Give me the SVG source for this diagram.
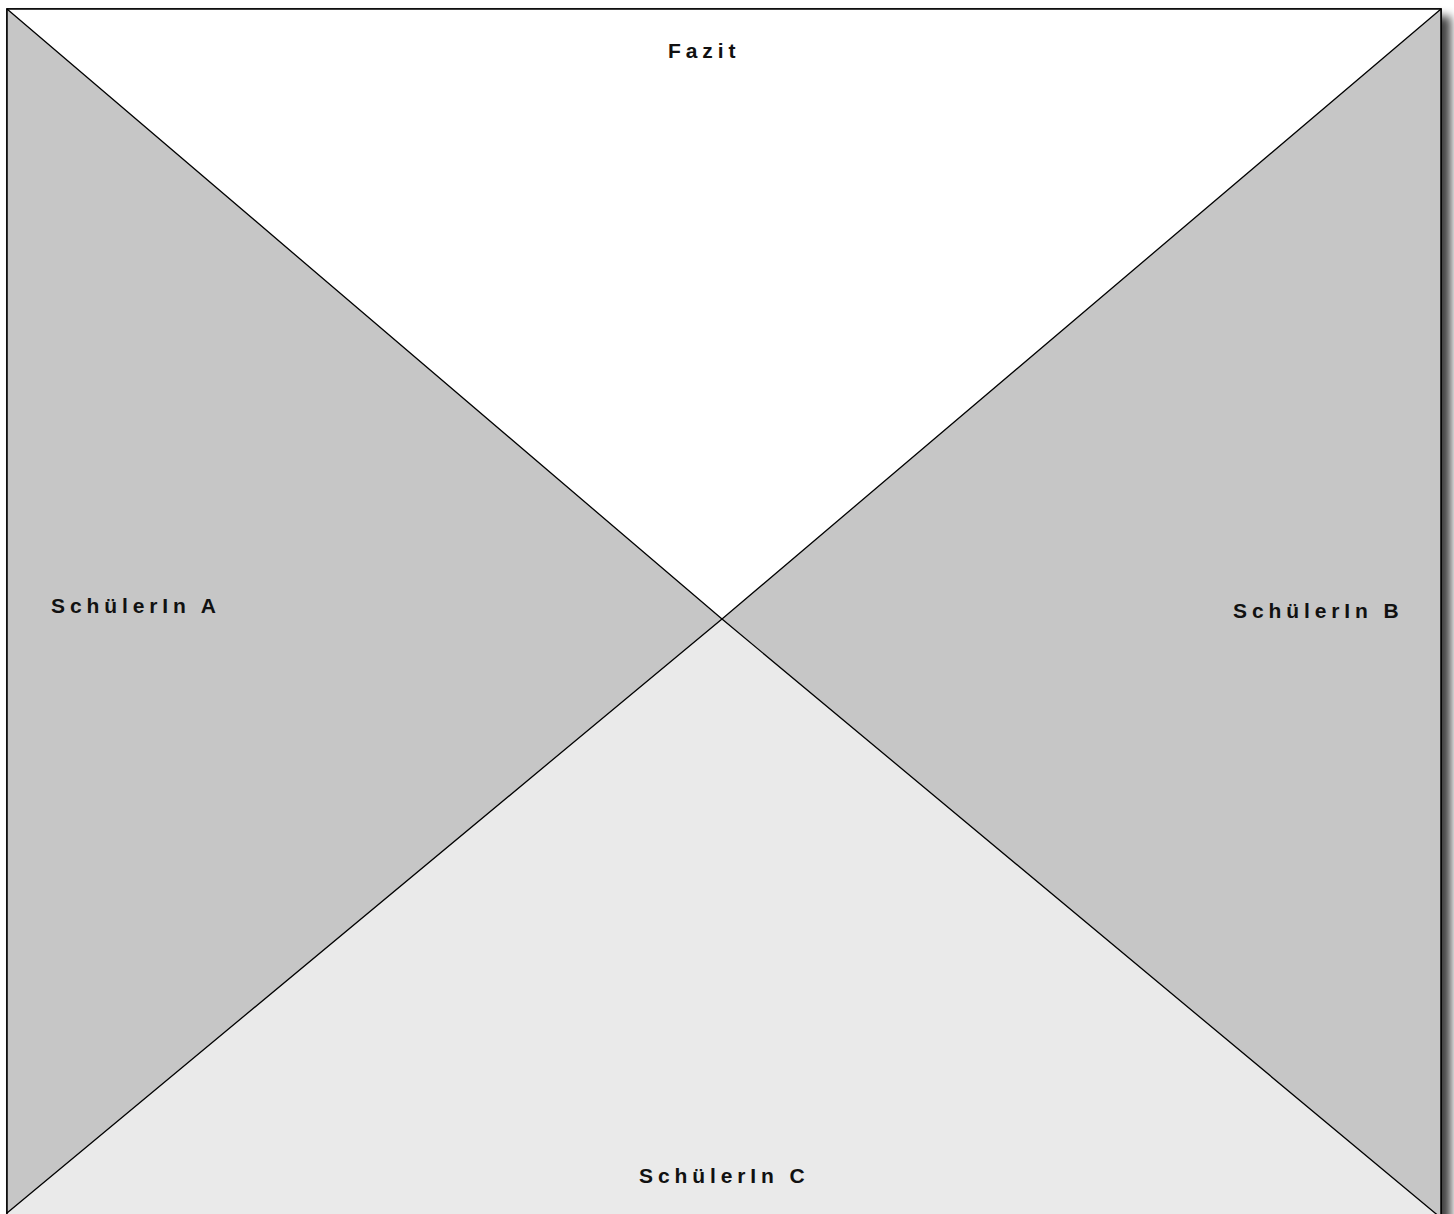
<svg xmlns="http://www.w3.org/2000/svg" width="1454" height="1214" viewBox="0 0 1454 1214">
<defs>
<filter id="sh" x="-5%" y="-5%" width="115%" height="115%">
<feGaussianBlur in="SourceAlpha" stdDeviation="5"/>
<feOffset dx="9" dy="8" result="b"/>
<feComponentTransfer><feFuncA type="linear" slope="0.75"/></feComponentTransfer>
<feMerge><feMergeNode/><feMergeNode in="SourceGraphic"/></feMerge>
</filter>
<style>
.lbl{font-family:"Liberation Sans",Arial,sans-serif;font-weight:bold;font-size:21px;letter-spacing:4.9px;fill:#111}
.edge{fill:none;stroke:#000;stroke-width:1.3}
</style>
</defs>
<rect x="0" y="0" width="1454" height="1214" fill="#fff"/>
<g id="frame" filter="url(#sh)">
<rect x="7" y="9" width="1434" height="1222" fill="#fff" stroke="#000" stroke-width="1.5"/>
</g>
<g id="fazit">
<polygon points="7,9 1441,9 722,619" fill="#fff"/>
<text class="lbl" x="668" y="58">Fazit</text>
</g>
<g id="schuelerin-a">
<polygon points="7,9 722,619 7,1213" fill="#c6c6c6"/>
<text class="lbl" x="51" y="613">SchülerIn A</text>
</g>
<g id="schuelerin-b">
<polygon points="1441,9 1441,1218 722,619" fill="#c6c6c6"/>
<text class="lbl" x="1233" y="618">SchülerIn B</text>
</g>
<g id="schuelerin-c">
<polygon points="7,1213 722,619 1441,1218 1441,1230 7,1230" fill="#eaeaea"/>
<text class="lbl" x="639" y="1183">SchülerIn C</text>
</g>
<g id="connectors">
<path class="edge" d="M7,9 L722,619 L1441,1218"/>
<path class="edge" d="M1441,9 L722,619 L7,1213"/>
<rect x="7" y="9" width="1434" height="1222" fill="none" stroke="#000" stroke-width="1.5"/>
</g>
</svg>
